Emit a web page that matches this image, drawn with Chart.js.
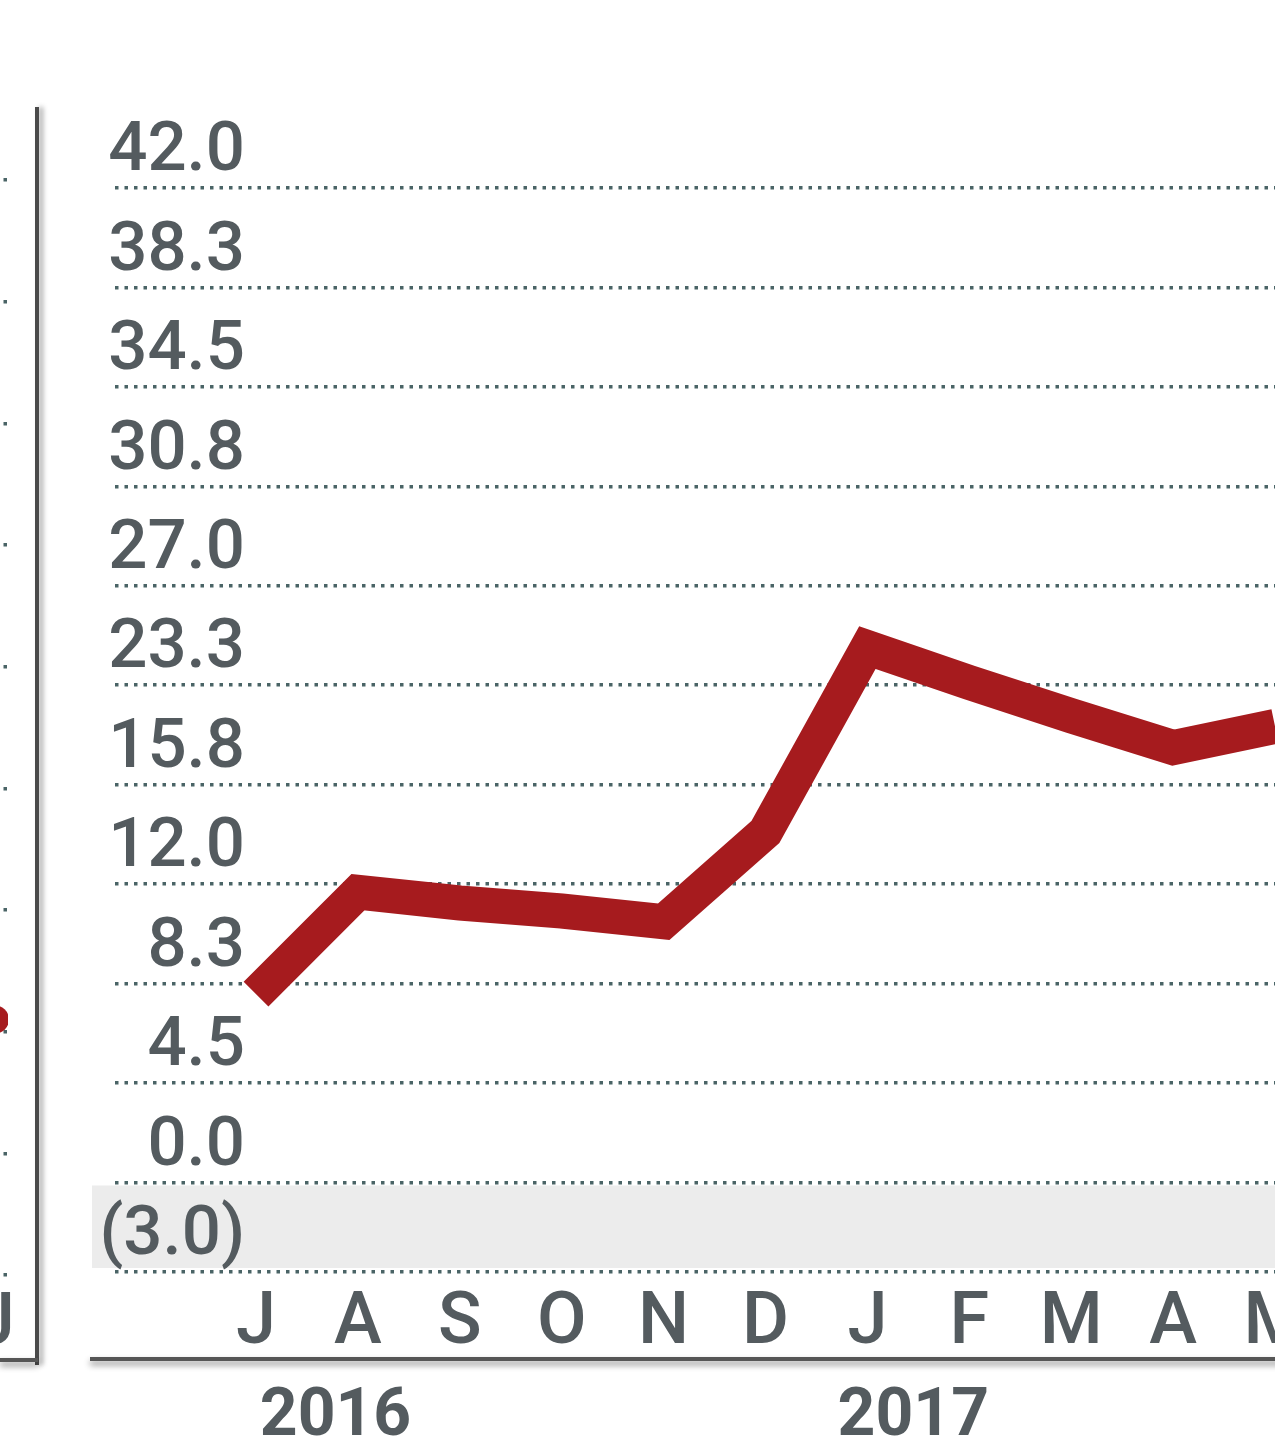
<!DOCTYPE html>
<html>
<head>
<meta charset="utf-8">
<script src="https://cdn.jsdelivr.net/npm/chart.js"></script>
<style>
  html, body { margin: 0; padding: 0; background: #fff; }
  body { width: 1275px; height: 1455px; position: relative; overflow: hidden; }
  #main { position: absolute; left: 0; top: 0; }
  #prev { position: absolute; left: -400px; top: 0; }
  .divider {
    position: absolute; left: 35px; top: 107px; width: 4px; height: 1258px;
    background: #4a4a4a; box-shadow: 4px 0 5px rgba(0, 0, 0, 0.35);
  }
  .rule {
    position: absolute; height: 4px; background: #565656;
    box-shadow: 0 4px 6px rgba(0, 0, 0, 0.45);
  }
</style>
</head>
<body>
<canvas id="prev" width="422" height="1455"></canvas>
<canvas id="main" width="1275" height="1455"></canvas>
<div class="divider"></div>
<div class="rule" style="left:0; top:1358px; width:38px"></div>
<div class="rule" style="left:90px; top:1357px; width:1200px"></div>

<script>
  // data
  var months = ['J', 'A', 'S', 'O', 'N', 'D', 'J', 'F', 'M', 'A', 'M'];
  var values = [7.9, 11.7, 11.3, 11.0, 10.6, 14.0, 24.7, 23.4, 21.0, 18.6, 20.2];
  var yTickLabels = ['(3.0)', '0.0', '4.5', '8.3', '12.0', '15.8', '23.3', '27.0', '30.8', '34.5', '38.3', '42.0'];
  var yTickValues = [-3.0, 0.0, 4.5, 8.3, 12.0, 15.8, 23.3, 27.0, 30.8, 34.5, 38.3, 42.0];
  var years = ['2016', '2017'];
  var yearAt = [0.78, 6.45];      // month index under the year label

  // previous panel (only its last month is in view)
  var prevMonths = ['J'];
  var prevValues = [2.1];

  var TEXT = '#545b5f';
  var GRID = '#4a6466';
  var FONT = 'Roboto, "Liberation Sans", Arial, sans-serif';

  // the value axis has evenly spaced gridlines with uneven labels,
  // the lowest one sits a little closer
  function tickPos(i) { return i === 0 ? 0.1 : i; }
  function toAxis(v) {
    for (var i = 0; i < yTickValues.length - 1; i++) {
      var a = yTickValues[i], b = yTickValues[i + 1];
      if (v <= b || i === yTickValues.length - 2) {
        return tickPos(i) + (v - a) / (b - a) * (tickPos(i + 1) - tickPos(i));
      }
    }
  }

  var yFont = { family: FONT, size: 69, weight: 500 };
  var mctx = document.createElement('canvas').getContext('2d');
  mctx.font = '500 69px ' + FONT;
  var widest = Math.max.apply(null, yTickLabels.map(function (l) { return mctx.measureText(l).width; }));

  function noSidePadding(s) { s.paddingLeft = 0; s.paddingRight = 0; }

  var band = {
    id: 'band',
    beforeDraw: function (chart) {
      var y = chart.scales.y, ctx = chart.ctx;
      var top = y.getPixelForValue(1) + 3, bottom = y.getPixelForValue(0.1) - 4;
      ctx.save();
      ctx.fillStyle = '#ececec';
      ctx.fillRect(92, top, chart.width - 92, bottom - top);
      ctx.restore();
    }
  };

  new Chart(document.getElementById('main'), {
    type: 'line',
    data: {
      datasets: [{
        data: values.map(function (v, i) { return { x: i, y: toAxis(v) }; }),
        borderColor: '#a61b1e',
        borderWidth: 35,
        borderJoinStyle: 'miter',
        borderCapStyle: 'butt',
        pointRadius: 0,
        tension: 0,
        fill: false
      }]
    },
    options: {
      responsive: false,
      animation: false,
      devicePixelRatio: 1,
      layout: { padding: { top: 188, left: 115, right: 0, bottom: 0 } },
      plugins: { legend: { display: false }, tooltip: { enabled: false } },
      scales: {
        x: {
          type: 'linear', position: 'bottom', weight: 0,
          min: -1.384, max: 10,
          afterBuildTicks: function (s) { s.ticks = months.map(function (m, i) { return { value: i }; }); },
          afterFit: function (s) { s.height = 85; noSidePadding(s); },
          grid: { display: false, drawTicks: false },
          border: { display: false },
          ticks: {
            autoSkip: false, maxRotation: 0, minRotation: 0, padding: 10,
            color: TEXT, font: { family: FONT, size: 72, weight: 500 },
            callback: function (v, i) { return months[i]; }
          }
        },
        x2: {
          type: 'linear', position: 'bottom', weight: 1,
          min: -1.384, max: 10,
          afterBuildTicks: function (s) { s.ticks = yearAt.map(function (p) { return { value: p }; }); },
          afterFit: function (s) { s.height = 98; noSidePadding(s); },
          grid: { display: false, drawTicks: false },
          border: { display: false },
          ticks: {
            autoSkip: false, maxRotation: 0, minRotation: 0, padding: 22,
            color: TEXT, font: { family: FONT, size: 66, weight: 'bold' },
            callback: function (v, i) { return years[i]; }
          }
        },
        y: {
          type: 'linear', position: 'left',
          min: 0.1, max: 11,
          afterBuildTicks: function (s) { s.ticks = yTickLabels.map(function (l, i) { return { value: tickPos(i) }; }); },
          afterFit: function (s) { s.width = 0; },
          grid: { color: GRID, lineWidth: 3.5, drawTicks: false },
          border: { display: false, dash: [3.5, 6] },
          ticks: {
            mirror: true, crossAlign: 'far', labelOffset: -35,
            padding: 245 - 115 - widest,
            color: TEXT, font: yFont,
            callback: function (v, i) { return yTickLabels[i]; }
          }
        }
      }
    },
    plugins: [band]
  });

  // sliver of the previous panel at the left edge
  new Chart(document.getElementById('prev'), {
    type: 'line',
    data: {
      datasets: [{
        data: prevValues.map(function (v, i) { return { x: i, y: v }; }),
        borderColor: '#a61b1e',
        backgroundColor: '#a61b1e',
        pointRadius: 14,
        borderWidth: 0
      }]
    },
    options: {
      responsive: false,
      animation: false,
      devicePixelRatio: 1,
      layout: { padding: { top: 180, left: 0, right: 0, bottom: 0 } },
      plugins: { legend: { display: false }, tooltip: { enabled: false } },
      scales: {
        x: {
          type: 'linear', min: -4.004, max: 0.137,
          afterBuildTicks: function (s) { s.ticks = prevMonths.map(function (m, i) { return { value: i }; }); },
          afterFit: function (s) { s.height = 180; noSidePadding(s); },
          grid: { display: false, drawTicks: false },
          border: { display: false },
          ticks: {
            autoSkip: false, maxRotation: 0, minRotation: 0, padding: 8,
            color: TEXT, font: { family: FONT, size: 72, weight: 500 },
            callback: function (v, i) { return prevMonths[i]; }
          }
        },
        y: {
          type: 'linear', min: 0, max: 9,
          afterBuildTicks: function (s) {
            var t = [];
            for (var i = 0; i <= 9; i++) t.push({ value: i });
            s.ticks = t;
          },
          afterFit: function (s) { s.width = 0; },
          grid: { color: GRID, lineWidth: 3.5, drawTicks: false },
          border: { display: false, dash: [3.5, 6] },
          ticks: { display: false }
        }
      }
    }
  });
</script>
</body>
</html>
